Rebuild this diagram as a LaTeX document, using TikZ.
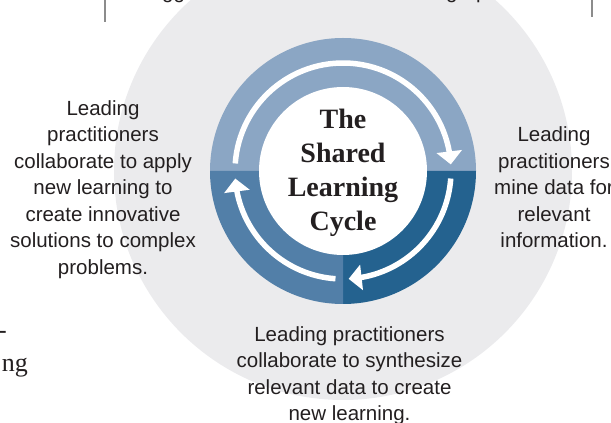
\documentclass[tikz,border=0pt]{standalone}
\usepackage{fontspec}
\setmainfont{Liberation Serif}
\newfontfamily\labelfont{Liberation Sans}
\usetikzlibrary{arrows.meta,bending}
\definecolor{ringtop}{RGB}{139,166,196}
\definecolor{ringright}{RGB}{36,98,143}
\definecolor{ringleft}{RGB}{82,127,168}
\definecolor{backdisc}{RGB}{235,235,237}
\definecolor{ink}{RGB}{35,31,32}
\definecolor{rulegray}{RGB}{140,140,140}

\begin{document}
\begin{tikzpicture}[x=1pt,y=1pt,
  notetext/.style={font=\labelfont\fontsize{20.5}{26.5}\selectfont, text=ink, align=center, inner sep=0pt},
  flow/.style={draw=white, line width=5.5pt, -{Triangle[width=25pt,length=13pt]}},
  fragment/.style={font=\labelfont\fontsize{20.5}{26.5}\selectfont, text=ink, inner sep=0pt, anchor=base west},
  pagetext/.style={font=\fontsize{26}{32}\selectfont, text=ink, inner sep=0pt, anchor=base east},
  titletext/.style={font=\bfseries\fontsize{28}{34}\selectfont, text=ink, align=center, inner sep=0pt}]
\useasboundingbox (0,0) rectangle (611,423);
\clip (0,0) rectangle (611,423);

% centre of the cycle
\coordinate (c) at (343,252);

% pale backdrop disc
\fill[backdisc] (c) circle[radius=229];

% coloured ring: upper half, lower right and lower left quarters
\fill[ringtop] ([shift={(0:133)}]c) arc[start angle=0,end angle=180,radius=133] -- cycle;
\fill[ringright] (c) -- ([shift={(0:133)}]c) arc[start angle=0,end angle=-90,radius=133] -- cycle;
\fill[ringleft] (c) -- ([shift={(180:133)}]c) arc[start angle=180,end angle=270,radius=133] -- cycle;
\fill[white] (c) circle[radius=84];

% clockwise arrows
\draw[flow] ([shift={(176:108)}]c) arc[start angle=176,end angle=3.5,radius=108];
\draw[flow] ([shift={(-4:108)}]c) arc[start angle=-4,end angle=-87,radius=108];
\draw[flow] ([shift={(-94:108)}]c) arc[start angle=-94,end angle=-176,radius=108];

% title
\node[titletext] (title) at (343,250.5) {The\\Shared\\Learning\\Cycle};

% stage descriptions
\node[notetext] (apply) at (103,233.7) {Leading\\practitioners\\collaborate to apply\\new learning to\\create innovative\\solutions to complex\\problems.};
\node[notetext] (mine) at (554,235.8) {Leading\\practitioners\\mine data for\\relevant\\information.};
\node[notetext] (synth) at (349.5,47.4) {Leading practitioners\\collaborate to synthesize\\relevant data to create\\new learning.};

% surrounding page material
\draw[rulegray, line width=1.2pt] (105,423) -- (105,401);
\draw[rulegray, line width=1.2pt] (592,423) -- (592,406);
\node[fragment] (topa) at (162,424) {gg};
\node[fragment] (topb) at (446,424) {g};
\node[fragment] (topc) at (476,424) {p};
\node[pagetext] (hyph) at (7,84) {-};
\node[pagetext] (ng) at (28,51.3) {ng};
\end{tikzpicture}
\end{document}
